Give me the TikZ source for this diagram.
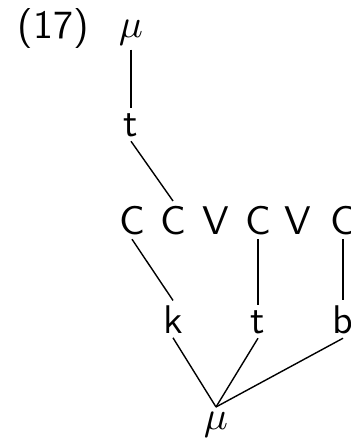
\documentclass[tikz,border=0pt]{standalone}
\begin{document}
\begin{tikzpicture}[x=0.25pt,y=-0.25pt,
  seg/.style={inner sep=1pt,anchor=base,font=\sffamily},
  edge/.style={line width=0.35pt}]
\useasboundingbox (0,0) rectangle (351,440);
\node[inner sep=0pt,anchor=base west,font=\sffamily] (num) at (17,38) {(17)};
\node[seg] (mutop) at (131,37) {$\mu$};
\node[seg] (ttop) at (131,136) {t};
\node[seg] (c1) at (132,234) {C};
\node[seg] (c2) at (173,234) {C};
\node[seg] (v1) at (216,234) {V};
\node[seg] (c3) at (258,234) {C};
\node[seg] (v2) at (298,234) {V};
\node[seg] (c4) at (343,234) {C};
\node[seg] (k) at (173,333) {k};
\node[seg] (t) at (258,333) {t};
\node[seg] (b) at (343,333) {b};
\node[seg] (mubot) at (216,429) {$\mu$};
\draw[edge] (mutop.south) -- (ttop.north);
\draw[edge] (ttop.south) -- (c2.north);
\draw[edge] (c1.south) -- (k.north);
\draw[edge] (c3.south) -- (t.north);
\draw[edge] (c4.south) -- (b.north);
\draw[edge] (k.south) -- (mubot.north);
\draw[edge] (t.south) -- (mubot.north);
\draw[edge] (b.south) -- (mubot.north);
\end{tikzpicture}
\end{document}
